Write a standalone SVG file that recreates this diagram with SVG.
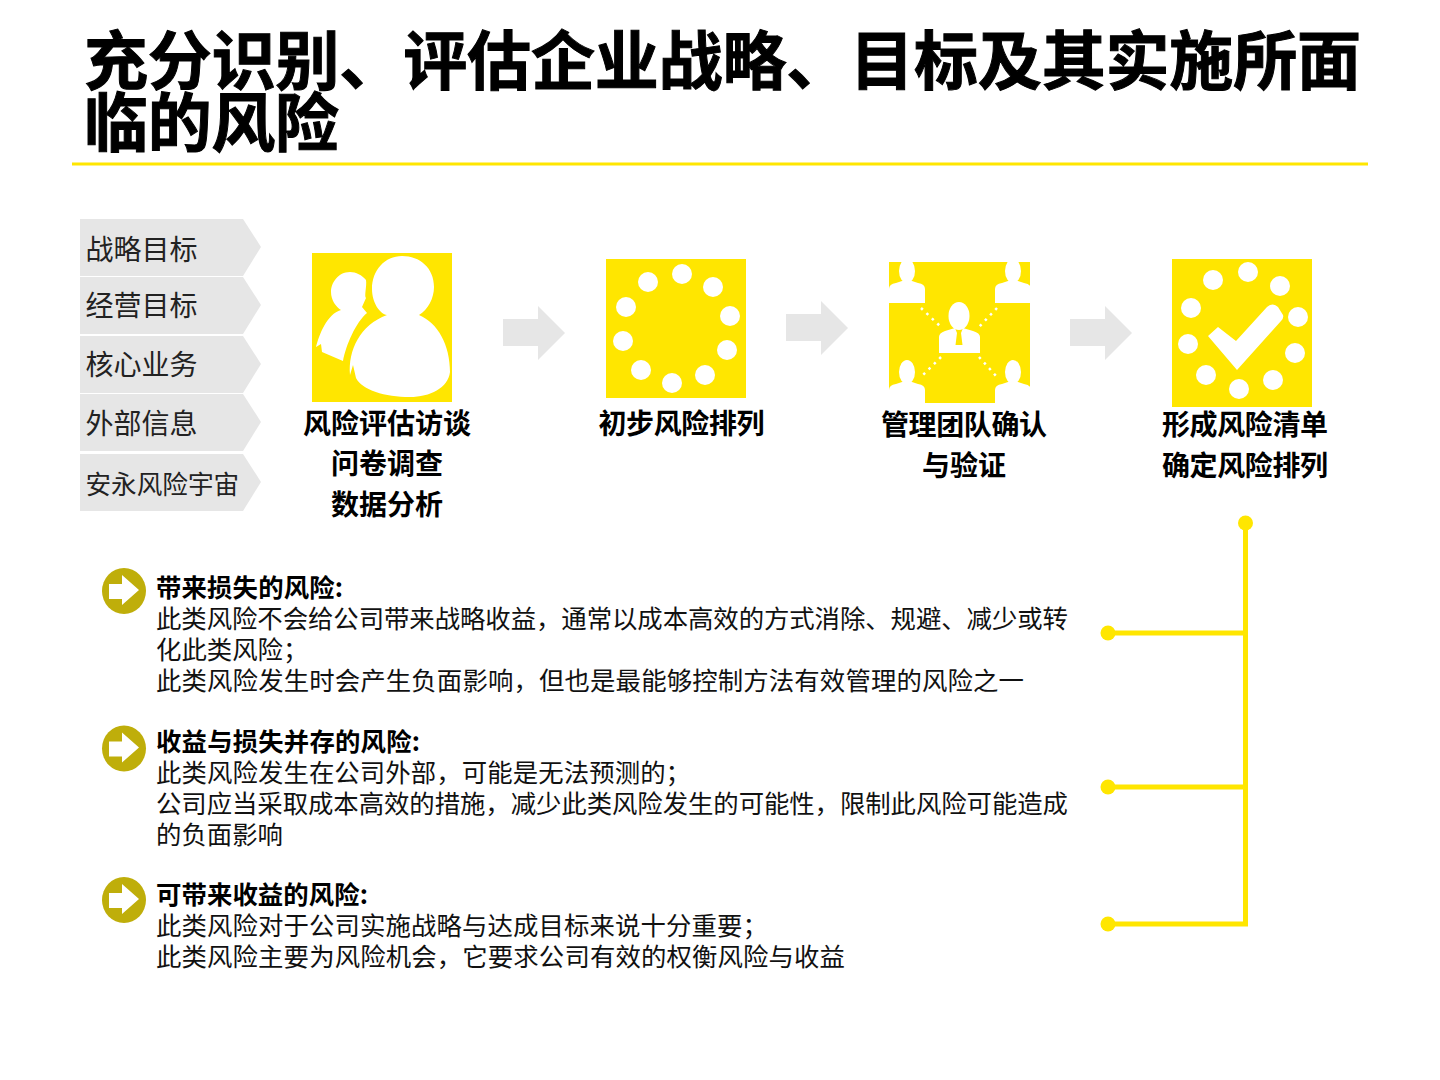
<svg xmlns="http://www.w3.org/2000/svg" width="1440" height="1080" viewBox="0 0 1440 1080">
<style>
text{font-family:"Noto Sans CJK SC","Liberation Sans",sans-serif;fill:#000}
.t{font-size:64px;font-weight:700;stroke:#000;stroke-width:1px}
.l{font-size:28px;fill:#222}
.c{font-size:28px;font-weight:700;text-anchor:middle}
.h{font-size:25.4px;font-weight:700}
.b{font-size:25.4px;fill:#111}
.tag{fill:#e6e6e6}
.ar{fill:#e6e6e6}
.y{fill:#ffe600}
.w{fill:#fff}
.conn{fill:none;stroke:#ffe600;stroke-width:5}
.dot{fill:#ffe600}
.bul{fill:#bfae0a}
</style>
<defs>
<path id="tag" class="tag" d="M0 0H163L181 28L163 57H0Z"/>
<path id="arrow" class="ar" d="M0 13H35V0L62 27L35 54V40H0Z"/>
<g id="bullet"><ellipse cx="22" cy="23" rx="22" ry="23" class="bul"/><path class="w" d="M7 16H20V7L37 22L20 37V31H7Z"/></g>
<g id="person"><ellipse cx="0" cy="0" rx="8" ry="12" class="w"/><path class="w" d="M-18 32V18Q-18 13-11 12L-5 10H5L11 12Q18 13 18 18V32Z"/></g>
<clipPath id="c3"><rect x="889" y="262" width="141" height="141"/></clipPath>
</defs>
<g id="title">
<text class="t" x="84" y="84" textLength="1277">充分识别、评估企业战略、目标及其实施所面</text>
<text class="t" x="84" y="146" textLength="255">临的风险</text>
<rect x="72" y="162.500" width="1296" height="3" class="y"/>
</g>
<g id="tags">
<g id="tag1"><use href="#tag" x="80" y="219"/><text class="l" x="85.500" y="260">战略目标</text></g>
<g id="tag2"><use href="#tag" x="80" y="277"/><text class="l" x="85.500" y="316">经营目标</text></g>
<g id="tag3"><use href="#tag" x="80" y="336"/><text class="l" x="85.500" y="375">核心业务</text></g>
<g id="tag4"><use href="#tag" x="80" y="394"/><text class="l" x="85.500" y="434">外部信息</text></g>
<g id="tag5"><use href="#tag" x="80" y="454"/><text class="l" style="font-size:25.600px" x="85.500" y="494">安永风险宇宙</text></g>
</g>
<g id="step1">
<rect x="312" y="253" width="140" height="149" class="y"/>
<path class="w" d="M402 256C385 256 372 270 372 289C372 303 380 314 387 315C360 325 348 350 350 375L353 365L356 378C362 390 385 397 410 397C430 397 448 388 450 372C450 345 438 323 419 315C428 310 434 298 434 287C434 268 420 256 402 256Z"/>
<path class="w" d="M350 272C338 272 331 283 331 292C331 300 336 307 341 310C327 314 319 335 316 347L321 344L322 352L343 361C346 345 356 322 367 313L362 307L366 298C364 296 367 286 366 280C362 275 356 272 350 272Z"/>
<text class="c" x="387" y="434">风险评估访谈</text>
<text class="c" x="387" y="474">问卷调查</text>
<text class="c" x="387" y="515">数据分析</text>
</g>
<g id="step2">
<rect x="606" y="259" width="140" height="139" class="y"/>
<g class="w"><circle cx="648" cy="282" r="10"/><circle cx="682" cy="274" r="10"/><circle cx="713" cy="287" r="10"/><circle cx="730" cy="316" r="10"/><circle cx="727" cy="350" r="10"/><circle cx="705" cy="375" r="10"/><circle cx="672" cy="383" r="10"/><circle cx="641" cy="370" r="10"/><circle cx="623" cy="341" r="10"/><circle cx="626" cy="307" r="10"/></g>
<text class="c" x="681.500" y="434" textLength="166">初步风险排列</text>
</g>
<g id="step3">
<rect x="889" y="262" width="141" height="141" class="y"/>
<g clip-path="url(#c3)">
<use href="#person" x="907" y="271"/>
<use href="#person" x="1013" y="271"/>
<use href="#person" x="907" y="372"/>
<use href="#person" x="1013" y="372"/>
</g>
<path fill="none" stroke="#fff" stroke-width="2.500" stroke-dasharray="2.500 5" d="M921 308L941 327M997 308L979 327M941 357L921 377M979 357L997 377"/>
<ellipse cx="959" cy="316" rx="10.500" ry="14" class="w"/>
<path class="w" d="M939 353V337Q939 333 945 331L955 328L957 333L955.500 345H962.500L961 333L963 328L973 331Q980 333 980 337V353Z"/>
<text class="c" x="964" y="435" textLength="166">管理团队确认</text>
<text class="c" x="964" y="476">与验证</text>
</g>
<g id="step4">
<rect x="1172" y="259" width="140" height="148" class="y"/>
<g class="w"><circle cx="1213" cy="280" r="10"/><circle cx="1248" cy="272" r="10"/><circle cx="1280" cy="286" r="10"/><circle cx="1298" cy="317" r="10"/><circle cx="1295" cy="353" r="10"/><circle cx="1273" cy="380" r="10"/><circle cx="1239" cy="389" r="10"/><circle cx="1206" cy="375" r="10"/><circle cx="1188" cy="344" r="10"/><circle cx="1191" cy="308" r="10"/></g>
<path class="w" d="M1208 336L1218 327L1236 341L1267 307Q1273 302 1278 307L1283 315Q1284 318 1281 321L1237 370Z"/>
<text class="c" x="1245" y="435" textLength="166">形成风险清单</text>
<text class="c" x="1245" y="476" textLength="166">确定风险排列</text>
</g>
<g id="connectors">
<use href="#arrow" x="503" y="306"/>
<use href="#arrow" x="786" y="301"/>
<use href="#arrow" x="1070" y="306"/>
<path class="conn" d="M1245.500 523V924H1108M1245.500 787H1108M1245.500 633H1108"/>
<circle class="dot" cx="1245.500" cy="523" r="7.500"/>
<circle class="dot" cx="1108" cy="633" r="7.500"/>
<circle class="dot" cx="1108" cy="787" r="7.500"/>
<circle class="dot" cx="1108" cy="924" r="7.500"/>
</g>
<g id="risk1">
<use href="#bullet" x="102" y="568"/>
<text class="h" x="156" y="597" textLength="187">带来损失的风险:</text>
<text class="b" x="156" y="628" textLength="912">此类风险不会给公司带来战略收益，通常以成本高效的方式消除、规避、减少或转</text>
<text class="b" x="156" y="659">化此类风险；</text>
<text class="b" x="156" y="690" textLength="868">此类风险发生时会产生负面影响，但也是最能够控制方法有效管理的风险之一</text>
</g>
<g id="risk2">
<use href="#bullet" x="102" y="725.500"/>
<text class="h" x="156" y="751" textLength="264">收益与损失并存的风险:</text>
<text class="b" x="156" y="782" textLength="535">此类风险发生在公司外部，可能是无法预测的；</text>
<text class="b" x="156" y="813" textLength="912">公司应当采取成本高效的措施，减少此类风险发生的可能性，限制此风险可能造成</text>
<text class="b" x="156" y="844">的负面影响</text>
</g>
<g id="risk3">
<use href="#bullet" x="102" y="877"/>
<text class="h" x="156" y="904" textLength="212">可带来收益的风险:</text>
<text class="b" x="156" y="935" textLength="612">此类风险对于公司实施战略与达成目标来说十分重要；</text>
<text class="b" x="156" y="966" textLength="689">此类风险主要为风险机会，它要求公司有效的权衡风险与收益</text>
</g>
</svg>
